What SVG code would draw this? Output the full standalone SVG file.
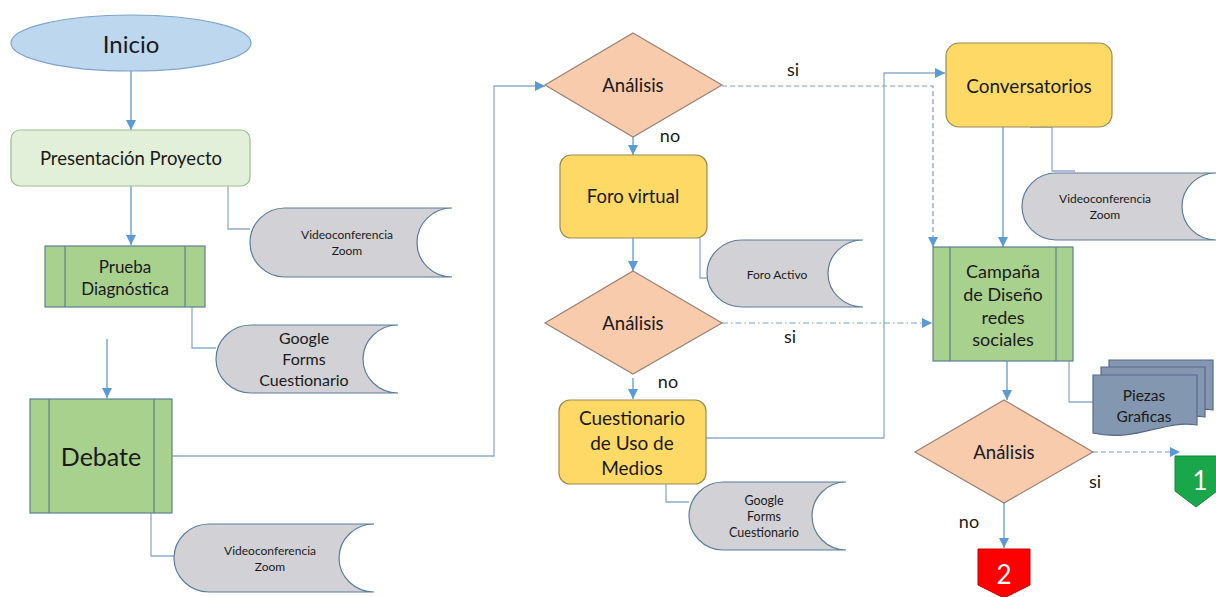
<svg xmlns="http://www.w3.org/2000/svg" width="1216" height="597" viewBox="0 0 1216 597">
<style>
text{font-family:Lato,"Liberation Sans",sans-serif;fill:#1a1a1a;text-anchor:middle;dominant-baseline:central}
.term{fill:#bdd7ee;stroke:#7fa3c9;stroke-width:1.2}
.pres{fill:#e2f0d9;stroke:#9fbf8f;stroke-width:1.2}
.proc{fill:#a9d18e;stroke:#5d8090;stroke-width:1.2}
.store{fill:#d2d2d6;stroke:#5d7d99;stroke-width:1.2}
.dec{fill:#f8cbad;stroke:#998275;stroke-width:1.2}
.yel{fill:#ffd966;stroke:#9b8c55;stroke-width:1.2}
.doc{fill:#8497b0;stroke:#56698a;stroke-width:1.2}
.c{fill:none;stroke:#5b9bd5;stroke-width:1.3}
.a{fill:none;stroke:#8eaccb;stroke-width:1.3}
.d{fill:none;stroke:#7b9fc8;stroke-width:1.2;stroke-dasharray:5 3}
.dd{fill:none;stroke:#7b9fc8;stroke-width:1.2;stroke-dasharray:6 3 1.5 3}
.lbl{font-size:18px}
.sm{font-size:12px}
</style>
<defs>
<marker id="ah" viewBox="0 0 10 10" refX="10" refY="5" markerWidth="10" markerHeight="10" markerUnits="userSpaceOnUse" orient="auto"><path d="M0,0 L10,5 L0,10 z" fill="#5b9bd5"/></marker>
</defs>

<g id="connectors">
<path class="c" d="M131,71 V130" marker-end="url(#ah)"/>
<path class="c" d="M131,186 V245" marker-end="url(#ah)"/>
<path class="a" d="M228,186 V229 H250"/>
<path class="a" d="M192,307 V348 H216"/>
<path class="c" d="M107,339 V398" marker-end="url(#ah)"/>
<path class="a" d="M151,513 V556 H174"/>
<path class="a" d="M172,456 H494 V86 H545" marker-end="url(#ah)"/>
<path class="d" d="M722,86 H933 V247" marker-end="url(#ah)"/>
<path class="c" d="M633,137 V155" marker-end="url(#ah)"/>
<path class="a" d="M700,238 V278 H707"/>
<path class="c" d="M633,238 V271" marker-end="url(#ah)"/>
<path class="dd" d="M722,323 H932" marker-end="url(#ah)"/>
<path class="c" d="M633,378 V399" marker-end="url(#ah)"/>
<path class="a" d="M706,438 H884 V73 H945" marker-end="url(#ah)"/>
<path class="a" d="M666,484 V502 H689"/>
<path class="c" d="M1003,127 V247" marker-end="url(#ah)"/>
<path class="a" d="M1030,127 H1052 V171 H1075"/>
<path class="c" d="M1007,361 V400" marker-end="url(#ah)"/>
<path class="a" d="M1069,361 V402 H1093"/>
<path class="d" d="M1093,452 H1180" marker-end="url(#ah)"/>
<path class="c" d="M1004,503 V548" marker-end="url(#ah)"/>
<text class="lbl" x="793" y="69">si</text>
<text class="lbl" x="670" y="135">no</text>
<text class="lbl" x="790" y="336">si</text>
<text class="lbl" x="668" y="381">no</text>
<text class="lbl" x="1095" y="481">si</text>
<text class="lbl" x="969" y="521">no</text>
</g>

<g id="inicio">
<ellipse class="term" cx="131" cy="43" rx="120" ry="28"/>
<text x="131" y="43" style="font-size:24px">Inicio</text>
</g>

<g id="presentacion">
<rect class="pres" x="11" y="130" width="239" height="56" rx="9"/>
<text x="131" y="158" style="font-size:18.5px">Presentación Proyecto</text>
</g>

<g id="video1">
<path class="store" d="M285,208 H452 A35 34.5 0 0 0 452,277 H285 A35 34.5 0 0 1 285,208 Z"/>
<text class="sm" x="347" y="234">Videoconferencia</text>
<text class="sm" x="347" y="250">Zoom</text>
</g>

<g id="prueba">
<rect class="proc" x="45" y="246" width="160" height="61"/>
<path class="proc" d="M65,246 V307 M185,246 V307"/>
<text x="125" y="266" style="font-size:17px">Prueba</text>
<text x="125" y="288" style="font-size:17px">Diagnóstica</text>
</g>

<g id="google1">
<path class="store" d="M251,325 H398 A35 34 0 0 0 398,393 H251 A35 34 0 0 1 251,325 Z"/>
<text x="304" y="337" style="font-size:16px">Google</text>
<text x="304" y="358" style="font-size:16px">Forms</text>
<text x="304" y="379" style="font-size:16px">Cuestionario</text>
</g>

<g id="debate">
<rect class="proc" x="30" y="399" width="142" height="114"/>
<path class="proc" d="M49,399 V513 M154,399 V513"/>
<text x="101" y="456" style="font-size:25px">Debate</text>
</g>

<g id="video2">
<path class="store" d="M209,524 H374 A35 34 0 0 0 374,592 H209 A35 34 0 0 1 209,524 Z"/>
<text class="sm" x="270" y="550">Videoconferencia</text>
<text class="sm" x="270" y="566">Zoom</text>
</g>

<g id="analisis1">
<path class="dec" d="M633,33 L722,85 L633,137 L545,85 Z"/>
<text x="633" y="85" style="font-size:18.5px">Análisis</text>
</g>

<g id="foro">
<rect class="yel" x="560" y="155" width="147" height="83" rx="11"/>
<text x="633" y="196" style="font-size:18.5px">Foro virtual</text>
</g>

<g id="foroactivo">
<path class="store" d="M742,240 H863 A35 33.5 0 0 0 863,307 H742 A35 33.5 0 0 1 742,240 Z"/>
<text class="sm" x="777" y="274">Foro Activo</text>
</g>

<g id="analisis2">
<path class="dec" d="M633,271 L722,323 L633,374 L545,323 Z"/>
<text x="633" y="323" style="font-size:18.5px">Análisis</text>
</g>

<g id="cuestionario">
<rect class="yel" x="559" y="400" width="147" height="84" rx="11"/>
<text x="632" y="417" style="font-size:19px">Cuestionario</text>
<text x="632" y="442" style="font-size:19px">de Uso de</text>
<text x="632" y="467" style="font-size:19px">Medios</text>
</g>

<g id="google2">
<path class="store" d="M723,482 H846 A34 34 0 0 0 846,550 H723 A34 34 0 0 1 723,482 Z"/>
<text x="764" y="500" style="font-size:12.5px">Google</text>
<text x="764" y="516" style="font-size:12.5px">Forms</text>
<text x="764" y="532" style="font-size:12.5px">Cuestionario</text>
</g>

<g id="conversatorios">
<rect class="yel" x="946" y="43" width="166" height="84" rx="13"/>
<text x="1029" y="85" style="font-size:19px">Conversatorios</text>
</g>

<g id="video3">
<path class="store" d="M1056,173 H1216 A34 33.5 0 0 0 1216,240 H1056 A34 33.5 0 0 1 1056,173 Z"/>
<text class="sm" x="1105" y="198">Videoconferencia</text>
<text class="sm" x="1105" y="214">Zoom</text>
</g>

<g id="campana">
<rect class="proc" x="933" y="247" width="140" height="114"/>
<path class="proc" d="M950,247 V361 M1056,247 V361"/>
<text x="1003" y="271" style="font-size:18px">Campaña</text>
<text x="1003" y="294" style="font-size:18px">de Diseño</text>
<text x="1003" y="317" style="font-size:18px">redes</text>
<text x="1003" y="339" style="font-size:18px">sociales</text>
</g>

<g id="piezas">
<path class="doc" d="M1109,360 H1213 V410 C1181,404 1151,428 1109,418 Z"/>
<path class="doc" d="M1101,367 H1205 V417 C1173,411 1143,435 1101,425 Z"/>
<path class="doc" d="M1093,375 H1197 V425 C1165,419 1135,443 1093,433 Z"/>
<text x="1144" y="395" style="font-size:15.5px">Piezas</text>
<text x="1144" y="416" style="font-size:15.5px">Graficas</text>
</g>

<g id="analisis3">
<path class="dec" d="M1004,400 L1093,452 L1004,503 L915,452 Z"/>
<text x="1004" y="452" style="font-size:18.5px">Análisis</text>
</g>

<g id="conector1">
<path d="M1175,456 H1217 V491 L1196,507 L1175,491 Z" fill="#1aa64b" stroke="#138a3c" stroke-width="1"/>
<text x="1200" y="480" style="font-size:26px;fill:#ffffff">1</text>
</g>

<g id="conector2">
<path d="M978,549 H1030 V585 L1004,598 L978,585 Z" fill="#ff0000" stroke="#c00000" stroke-width="1"/>
<text x="1004" y="574" style="font-size:26px;fill:#ffffff">2</text>
</g>
</svg>
